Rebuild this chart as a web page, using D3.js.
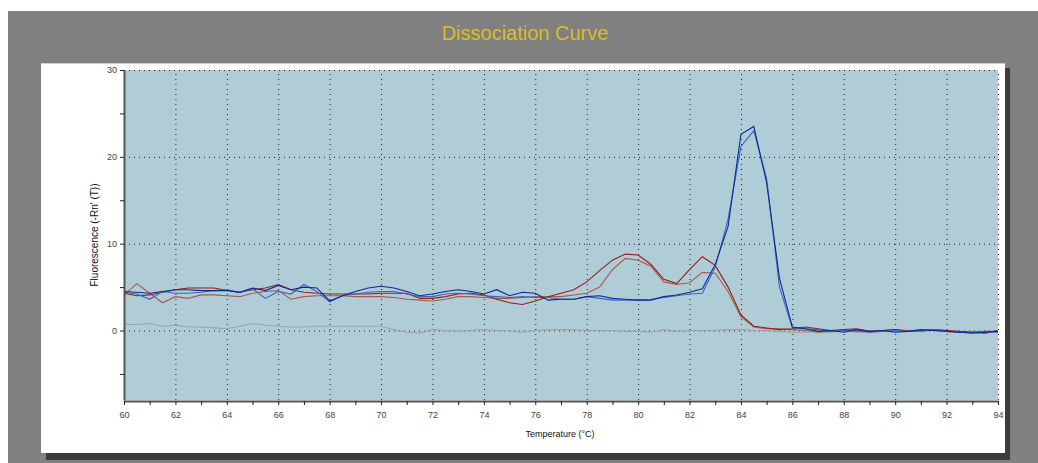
<!DOCTYPE html>
<html lang="en">
<head>
<meta charset="UTF-8"/>
<title>Dissociation Curve</title>
<script src="https://d3js.org/d3.v7.min.js"></script>
<style>
	body { margin: 0; background: #fff; }
	text { font-family: "Liberation Sans", Arial, sans-serif; }
	.grid line { stroke: #222; stroke-dasharray: 1,4; }
	.grid path { display: none; }
	.tick text { fill: #444; font-size: 9px; }
</style>
</head>
<body>
<script>
	// temperature of each reading (°C)
	var temps = [
		60, 60.5, 61, 61.5, 62, 62.5, 63, 63.5, 64, 64.5,
		65, 65.5, 66, 66.5, 67, 67.5, 68, 68.5, 69, 69.5,
		70, 70.5, 71, 71.5, 72, 72.5, 73, 73.5, 74, 74.5,
		75, 75.5, 76, 76.5, 77, 77.5, 78, 78.5, 79, 79.5,
		80, 80.5, 81, 81.5, 82, 82.5, 83, 83.5, 84, 84.5,
		85, 85.5, 86, 86.5, 87, 87.5, 88, 88.5, 89, 89.5,
		90, 90.5, 91, 91.5, 92, 92.5, 93, 93.5, 94];

	// -Rn'(T) per well
	var blueDark = [
		4.5, 4.4, 4.3, 4.5, 4.7, 4.7, 4.6, 4.6, 4.6, 4.4,
		4.9, 4.6, 5.2, 4.7, 5.0, 4.9, 3.4, 4.0, 4.5, 4.9,
		5.1, 4.9, 4.5, 4.0, 4.2, 4.5, 4.7, 4.5, 4.2, 4.7,
		4.0, 4.4, 4.3, 3.5, 3.6, 3.6, 3.9, 4.0, 3.7, 3.6,
		3.5, 3.5, 3.9, 4.1, 4.4, 4.8, 7.6, 12.0, 22.6, 23.5,
		17.0, 6.0, 0.4, 0.2, -0.1, 0.0, -0.2, 0.1, -0.1, 0.0,
		-0.2, -0.1, 0.1, 0.0, -0.1, -0.2, -0.3, -0.2, -0.1];

	var blueLight = [
		4.4, 4.2, 3.6, 4.5, 4.3, 4.3, 4.4, 4.6, 4.7, 4.4,
		4.8, 3.7, 4.5, 4.2, 5.3, 4.5, 3.3, 4.0, 4.2, 4.4,
		4.5, 4.5, 4.2, 3.9, 3.9, 4.2, 4.3, 4.2, 4.0, 3.9,
		3.8, 3.9, 3.8, 3.8, 3.6, 3.6, 3.9, 3.7, 3.5, 3.5,
		3.5, 3.6, 3.8, 4.0, 4.2, 4.3, 7.3, 12.8, 21.2, 23.0,
		17.5, 5.0, 0.3, 0.2, 0.1, -0.1, 0.0, 0.1, -0.2, -0.1,
		0.0, -0.1, 0.0, 0.1, -0.1, -0.2, -0.2, -0.1, -0.2];

	var redDark = [
		4.3, 4.0, 4.1, 4.4, 4.7, 4.9, 4.9, 4.9, 4.6, 4.4,
		4.7, 4.9, 5.3, 4.7, 4.4, 4.3, 4.2, 4.2, 4.2, 4.2,
		4.3, 4.3, 4.3, 3.7, 3.7, 3.9, 4.2, 4.3, 4.1, 3.6,
		3.2, 3.0, 3.4, 3.9, 4.3, 4.7, 5.6, 6.9, 8.1, 8.8,
		8.7, 7.6, 5.9, 5.4, 7.0, 8.5, 7.5, 5.0, 1.8, 0.5,
		0.3, 0.1, 0.2, 0.4, 0.2, 0.0, 0.1, 0.2, -0.1, 0.0,
		0.1, -0.1, 0.0, 0.1, 0.0, -0.1, -0.2, -0.3, 0.0];

	var redLight = [
		4.1, 5.4, 4.3, 3.2, 3.9, 3.7, 4.1, 4.1, 4.0, 3.9,
		4.3, 4.5, 4.6, 3.6, 3.9, 4.0, 4.0, 4.0, 3.9, 3.9,
		3.9, 3.8, 3.6, 3.5, 3.4, 3.6, 3.9, 3.9, 3.8, 3.7,
		3.7, 3.8, 3.9, 3.9, 3.9, 4.1, 4.3, 5.0, 7.0, 8.3,
		8.1, 7.4, 5.6, 5.3, 5.5, 6.7, 6.6, 4.5, 1.6, 0.4,
		0.2, 0.2, 0.1, 0.0, -0.2, -0.1, 0.0, -0.1, -0.2, 0.0,
		0.1, 0.0, -0.1, 0.1, 0.0, -0.2, -0.2, -0.1, -0.1];

	var ntc = [
		0.7, 0.7, 0.8, 0.5, 0.6, 0.4, 0.4, 0.3, 0.2, 0.5,
		0.8, 0.6, 0.5, 0.4, 0.4, 0.5, 0.5, 0.5, 0.5, 0.5,
		0.5, 0.1, -0.2, -0.3, 0.1, 0.0, -0.1, 0.0, 0.1, 0.0,
		0.0, -0.2, 0.0, 0.1, 0.1, 0.1, 0.0, 0.0, 0.0, -0.1,
		-0.1, -0.2, 0.1, -0.1, 0.0, 0.0, 0.0, 0.1, 0.1, 0.0,
		0.0, -0.1, -0.2, -0.2, -0.1, -0.2, 0.0, -0.2, -0.1, 0.0,
		-0.1, 0.0, 0.0, 0.0, -0.1, -0.2, -0.1, -0.2, -0.2];

	var xMajor = d3.range(60, 95, 2);
	var xMinor = d3.range(60, 95, 1);
	var yMajor = [0, 10, 20, 30];
	var yMinor = [-5, 0, 5, 10, 15, 20, 25, 30];

	var w = 1038, h = 463;
	var plotLeft = 124, plotRight = 998, plotTop = 70, plotBottom = 400;

	var svg = d3.select("body").append("svg")
				.attr("width", w)
				.attr("height", h);

	// grey window frame, white panel with its shadow
	svg.append("rect").attr("x", 8).attr("y", 11).attr("width", w - 8).attr("height", h - 11).attr("fill", "#808080");
	svg.append("rect").attr("x", 46).attr("y", 68).attr("width", 964).attr("height", 392).attr("fill", "#3c3c3c");
	svg.append("rect").attr("x", 41).attr("y", 63).attr("width", 964).attr("height", 390).attr("fill", "#fff");
	svg.append("line").attr("x1", 41).attr("x2", 1005).attr("y1", 63.5).attr("y2", 63.5).attr("stroke", "#d0d0d0");

	svg.append("text")
		.attr("x", 525).attr("y", 40)
		.attr("text-anchor", "middle")
		.attr("fill", "#d8bd2c")
		.style("font-size", "20px")
		.text("Dissociation Curve");

	var xScale = d3.scaleLinear().domain([60, 94]).range([plotLeft, plotRight]);
	var yScale = d3.scaleLinear().domain([-8, 30]).range([plotBottom, plotTop]);

	svg.append("rect")
		.attr("x", plotLeft).attr("y", plotTop)
		.attr("width", plotRight - plotLeft).attr("height", plotBottom - plotTop)
		.attr("fill", "#afccd7");

	// dotted grid
	svg.append("g").attr("class", "grid")
		.attr("transform", "translate(0," + plotBottom + ")")
		.call(d3.axisBottom(xScale).tickValues(xMajor).tickSize(-(plotBottom - plotTop)).tickFormat(""));
	svg.append("g").attr("class", "grid")
		.attr("transform", "translate(" + plotLeft + ",0)")
		.call(d3.axisLeft(yScale).tickValues(yMajor).tickSize(-(plotRight - plotLeft)).tickFormat(""));

	// curves
	var line = d3.line()
		.x(function(d, i) { return xScale(temps[i]); })
		.y(function(d) { return yScale(d); });

	var series = [
		{ values: ntc, colour: "#a2a2a2" },
		{ values: redLight, colour: "#a65a50" },
		{ values: redDark, colour: "#921f12" },
		{ values: blueLight, colour: "#3f64c2" },
		{ values: blueDark, colour: "#0b2b92" }
	];

	svg.selectAll("path.curve")
		.data(series)
		.enter()
		.append("path")
		.attr("class", "curve")
		.attr("d", function(s) { return line(s.values); })
		.attr("fill", "none")
		.attr("stroke", function(s) { return s.colour; })
		.attr("stroke-width", 1.1);

	// axes
	var xAxis = svg.append("g")
		.attr("transform", "translate(0," + (plotBottom + 1) + ")")
		.call(d3.axisBottom(xScale).tickValues(xMinor).tickSize(4).tickSizeOuter(0)
			.tickFormat(function(d) { return d % 2 === 0 ? d : ""; }));
	xAxis.select(".domain").attr("stroke", "#555").attr("stroke-width", 2);
	xAxis.selectAll(".tick line").attr("stroke", "#222");
	xAxis.selectAll(".tick text").attr("dy", "1.1em");

	var yAxis = svg.append("g")
		.attr("transform", "translate(" + plotLeft + ",0)")
		.call(d3.axisLeft(yScale).tickValues(yMinor).tickSize(4).tickSizeOuter(0)
			.tickFormat(function(d) { return yMajor.indexOf(d) >= 0 ? d : ""; }));
	yAxis.select(".domain").attr("stroke", "#555").attr("stroke-width", 2);
	yAxis.selectAll(".tick line").attr("stroke", "#222");

	svg.append("text")
		.attr("x", 560).attr("y", 437)
		.attr("text-anchor", "middle")
		.attr("fill", "#111")
		.style("font-size", "9px")
		.text("Temperature (°C)");

	svg.append("text")
		.attr("transform", "translate(98,235) rotate(-90)")
		.attr("text-anchor", "middle")
		.attr("fill", "#111")
		.style("font-size", "10px")
		.text("Fluorescence (-Rn' (T))");
</script>
</body>
</html>
